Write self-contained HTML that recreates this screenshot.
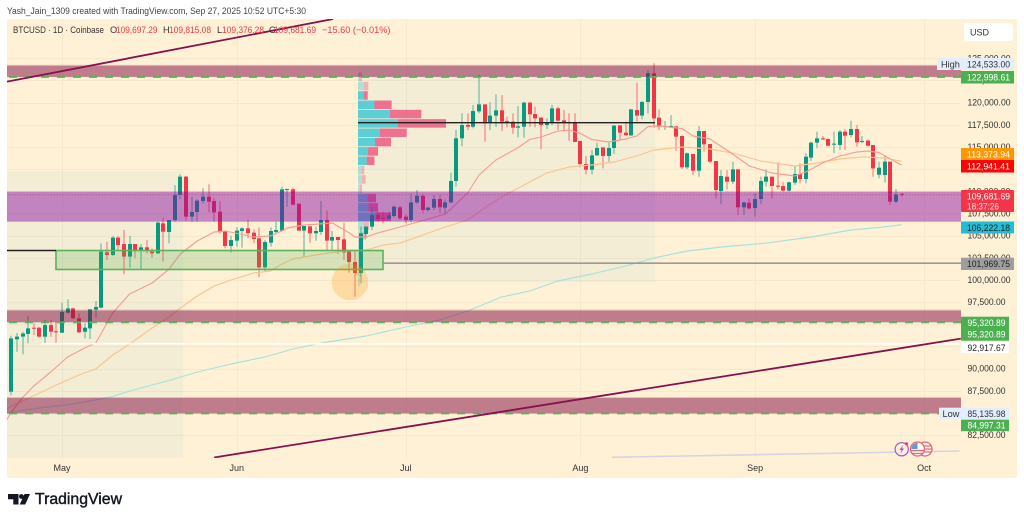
<!DOCTYPE html>
<html lang="en">
<head>
<meta charset="utf-8">
<title>BTCUSD chart</title>
<style>
html,body{margin:0;padding:0;background:#fff;width:1024px;height:521px;overflow:hidden}
svg{display:block;font-family:"Liberation Sans",sans-serif}
</style>
</head>
<body>
<svg id="chart" width="1024" height="521" viewBox="0 0 1024 521" xmlns="http://www.w3.org/2000/svg">
  <defs><clipPath id="plot-clip"><rect x="7" y="19" width="954" height="439"/></clipPath></defs>
  <rect x="7" y="19" width="1010" height="459" fill="#fff1d6"/>
  <g id="grid"></g>
  <g clip-path="url(#plot-clip)">
    <g id="tints"></g>
    <g id="vp"></g>
    <g id="candles"></g>
    <g id="mas"></g>
    <g id="zones"></g>
    <g id="lines"></g>
    <g>
      <circle cx="901.7" cy="449.3" r="6.6" fill="#fff1d6" stroke="#a64fe0" stroke-width="1.2"/>
      <polygon points="903,445 899.5,450 901.5,450 900.5,453.5 904,448.5 902,448.5" fill="#a64fe0"/>
      <circle cx="906.5" cy="443.8" r="1.5" fill="#f23645"/>
      <circle cx="925" cy="449" r="7" fill="#fff" stroke="#f0606e" stroke-width="1.2"/>
      <path d="M919 446h12M918 449h14M919 452h12" stroke="#f0606e" stroke-width="1.2" fill="none"/>
      <circle cx="917.5" cy="449" r="7" fill="#fff" stroke="#f0606e" stroke-width="1.2"/>
      <path d="M911 450.5h13M912 453.5h11" stroke="#f0606e" stroke-width="1.2" fill="none"/>
      <path d="M917.5 442.8a6.2 6.2 0 0 0-6.2 6.2h6.2z" fill="#5b9be6"/>
    </g>
  </g>
  <g id="ticks"></g>

  <text x="7" y="14" font-size="9.6" fill="#444" textLength="299" lengthAdjust="spacingAndGlyphs">Yash_Jain_1309 created with TradingView.com, Sep 27, 2025 10:52 UTC+5:30</text>

  <g font-size="9.2">
    <text x="13" y="33" fill="#333" textLength="91" lengthAdjust="spacingAndGlyphs">BTCUSD · 1D · Coinbase</text>
    <text x="110" y="33" fill="#333">O</text>
    <text x="116" y="33" fill="#f23645" textLength="41.5" lengthAdjust="spacingAndGlyphs">109,697.29</text>
    <text x="163" y="33" fill="#333">H</text>
    <text x="169" y="33" fill="#f23645" textLength="42" lengthAdjust="spacingAndGlyphs">109,815.08</text>
    <text x="217" y="33" fill="#333">L</text>
    <text x="222" y="33" fill="#f23645" textLength="42" lengthAdjust="spacingAndGlyphs">109,376.28</text>
    <text x="269" y="33" fill="#333">C</text>
    <text x="274" y="33" fill="#f23645" textLength="42" lengthAdjust="spacingAndGlyphs">109,681.69</text>
    <text x="322" y="33" fill="#f23645">−15.60 (−0.01%)</text>
  </g>

  <g font-size="9.2">
    <rect x="964" y="23" width="49" height="18" rx="3" fill="#fff"/>
    <text x="970" y="35.5" fill="#333" font-size="9">USD</text>

    <rect x="937" y="58" width="24" height="12" fill="#e3edfb"/>
    <text x="941" y="67.3" fill="#333">High</text>
    <rect x="961" y="58" width="53" height="12" fill="#e3edfb"/>
    <text x="967" y="67.3" fill="#333" textLength="43" lengthAdjust="spacingAndGlyphs">124,533.00</text>

    <rect x="961" y="71" width="53" height="12.5" fill="#4caf50"/>
    <text x="967" y="80.5" fill="#fff" textLength="43" lengthAdjust="spacingAndGlyphs">122,998.61</text>

    <rect x="961" y="148" width="53" height="12" fill="#ff9800"/>
    <text x="967" y="157.3" fill="#fff" textLength="43" lengthAdjust="spacingAndGlyphs">113,373.94</text>
    <rect x="961" y="160" width="53" height="12.5" fill="#fa0505"/>
    <text x="967" y="169.5" fill="#fff" textLength="43" lengthAdjust="spacingAndGlyphs">112,941.41</text>

    <rect x="961" y="190" width="53" height="22" rx="1" fill="#f23645"/>
    <text x="967" y="199.5" fill="#fff" textLength="43" lengthAdjust="spacingAndGlyphs">109,681.69</text>
    <text x="967" y="209.5" fill="#fff" fill-opacity=".85" textLength="32" lengthAdjust="spacingAndGlyphs">18:37:26</text>

    <rect x="961" y="221.5" width="53" height="12" fill="#22bcd4"/>
    <text x="967" y="230.8" fill="#222" textLength="43" lengthAdjust="spacingAndGlyphs">106,222.18</text>

    <rect x="961" y="257.7" width="53" height="12.3" fill="#9e9e9e"/>
    <text x="967" y="267" fill="#222" textLength="43" lengthAdjust="spacingAndGlyphs">101,969.75</text>

    <rect x="961" y="316.7" width="48" height="24" fill="#4caf50"/>
    <text x="967.5" y="325.8" fill="#fff" textLength="38" lengthAdjust="spacingAndGlyphs">95,320.89</text>
    <text x="967.5" y="337.5" fill="#fff" textLength="38" lengthAdjust="spacingAndGlyphs">95,320.89</text>

    <rect x="961" y="342" width="48" height="11" fill="#fff"/>
    <text x="967.5" y="350.8" fill="#222" textLength="38" lengthAdjust="spacingAndGlyphs">92,917.67</text>

    <rect x="939" y="407.7" width="22" height="11.5" fill="#e3edfb"/>
    <text x="942.5" y="416.8" fill="#333">Low</text>
    <rect x="961" y="407.7" width="48" height="11.5" fill="#e3edfb"/>
    <text x="967.5" y="416.8" fill="#333" textLength="38" lengthAdjust="spacingAndGlyphs">85,135.98</text>

    <rect x="961" y="419.7" width="48" height="11.5" fill="#4caf50"/>
    <text x="967.5" y="428.7" fill="#fff" textLength="38" lengthAdjust="spacingAndGlyphs">84,997.31</text>
  </g>

  <g>
    <path d="M8 494h10.5v10.5h-5.2v-5.3H8z" fill="#131722"/>
    <circle cx="21.4" cy="496.5" r="2.4" fill="#131722"/>
    <polygon points="24.5,494 30,494 25.2,504.5 19.7,504.5" fill="#131722"/>
    <text x="35" y="504" font-size="15.5" fill="#131722" stroke="#131722" stroke-width=".4" textLength="87" lengthAdjust="spacingAndGlyphs">TradingView</text>
  </g>
</svg>

<script>
// Candle data: day 1 = 2025-04-22, one value per daily bar (USD)
var opens = [87390,93300,93600,93900,94600,94600,93590,94900,94200,94040,96300,96780,95660,94150,94530,96640,96860,103100,102800,104760,104040,102620,104040,103370,103670,103180,102990,106370,105400,106750,109570,111640,107130,107650,108900,109380,108890,107690,105470,103820,104420,105510,105810,105320,104680,101410,104190,105400,105550,110170,110210,108590,105550,106030,105250,105400,106750,104420,104830,104570,103180,102010,100770,105170,106000,107310,107010,106900,107200,108180,107130,106750,108740,109490,107880,108140,109120,108140,108740,111150,115960,117460,117270,119000,119790,117730,118520,119120,117910,117840,117160,117270,119980,118700,118290,117460,117760,119340,117990,117760,117690,115660,113060,112420,114040,114940,113970,114870,117420,116600,116300,119150,118520,120060,123290,118290,117270,117230,117310,116220,112690,114190,112310,116780,115320,113400,110020,111630,111070,112460,108180,108700,108100,109120,111070,111640,110620,110580,110060,110960,111940,111370,113780,115470,115960,115880,115280,115210,116710,116330,117010,115580,115700,115210,111860,111820,113330,108820,109697];
var highs = [93700,94000,94150,95900,95100,94720,95470,95470,95290,97430,97800,96860,96220,95100,96680,97620,104120,104300,104950,104950,105620,104950,104040,104040,104490,103550,106560,107010,106750,110700,111900,111710,109380,109080,110320,110770,109190,108890,105470,104980,105920,105920,106750,105700,105920,104490,105920,106560,110510,110270,110400,108590,106070,106030,106000,108890,107800,105510,104830,106450,103180,103180,106000,106070,108180,107690,107690,107690,108370,108330,107400,109760,110130,109680,108250,109570,109570,109080,112090,116900,118780,118780,119720,123100,119790,120020,120920,120840,118400,118780,119600,120090,120090,119530,118400,118210,119720,119530,119150,118780,118780,115660,113970,114640,115470,114940,115470,117460,117420,117840,119230,122240,120170,123660,124420,119230,117910,118590,117310,116300,114350,114190,117350,116780,115320,113400,112390,112390,113330,112460,108740,109190,109760,111640,112460,111640,113250,111070,111070,112880,113140,114270,115580,116710,116220,115960,116710,116900,117010,117950,117460,116220,115850,115210,113330,113970,113330,110240,109815];
var lows = [87000,91900,91600,92850,93780,93480,92900,93590,92900,94040,96220,95580,93970,93400,93330,95730,96790,102240,102690,103370,100620,101370,102430,101190,102990,102500,102920,102050,104120,106560,109120,106670,106560,106560,108630,107610,106560,105250,103550,103070,103740,103630,104680,104120,100280,101000,103740,105250,105550,108250,108400,105550,102620,104190,104420,105060,103290,103370,102920,102240,100810,98100,99610,104680,105620,106560,106370,106750,107050,106750,106400,106500,108550,107500,107690,107880,107500,107310,108630,110510,115100,116900,117090,118780,115580,116900,117270,116790,117200,116450,116070,116030,117270,117200,114720,117010,117460,116900,116710,115700,115550,112690,111900,111900,113970,112570,113330,114190,115770,116220,116220,117840,118100,118780,117160,116900,116900,117200,114570,112500,112500,111820,111630,114460,113140,109190,108550,110210,110810,107310,107310,107950,107130,108550,110510,109190,110210,109940,109940,110700,110880,110880,113400,114830,115770,115100,114270,114640,114640,116070,115020,115390,115020,111630,111450,110960,108440,108630,109376];
var closes = [93400,93600,93950,94530,94520,93600,94900,94150,94080,96370,96780,95660,94080,94610,96680,96940,103180,102800,104760,103930,102620,104040,103370,103670,103370,102990,106450,105430,106750,109570,111640,107130,107650,108930,109380,108820,107610,105400,103820,104490,105550,105810,105280,104610,101410,104270,105510,105620,110210,110250,108480,105550,106070,105250,105510,106750,104420,104830,104490,103100,102010,100770,105250,106000,107310,106860,106900,107280,108250,106940,106750,108740,109490,107880,108140,109120,108180,108740,111150,115960,117460,117270,119040,119790,117650,118520,119120,117840,117730,117160,117310,119980,118670,118210,117460,117760,119340,117950,117730,117690,115550,113060,112420,114040,114870,113970,114870,117390,116600,116300,119230,118520,120060,123290,118210,117270,117350,117350,116150,112690,114270,112310,116780,115280,113330,110130,111710,111070,112460,108180,108740,108060,109120,111150,111640,110580,110510,110060,111000,111940,111370,113890,115470,115960,115880,115130,115360,116710,116260,117010,115510,115660,115130,112570,112650,113330,108820,109640,109682];

// Moving averages (day index / price pairs)
var ema20Days = [0,1,3,5,8,11,14,16,19,22,26,29,31,34,37,39,44,47,49,50,53,58,61,62,64,66,70,75,78,79,82,84,87,91,93,95,98,100,102,104,107,110,112,114,116,120,122,125,129,132,136,140,142,145,148,151,153,155,157,159];
var ema20Values = [84000,85100,86730,88030,89610,91300,92310,92880,96260,98400,99650,101220,102920,104380,105400,105510,104830,104940,105510,105850,106190,106410,105280,104830,104830,105280,105960,106860,107430,107990,109790,111820,113520,114930,115830,116110,116780,116900,116500,115830,115540,115880,116220,117290,117350,117070,116220,115880,114190,112840,112050,111710,112160,113180,113970,114410,114530,114360,113630,112941];
var ema50Days = [0,3,6,9,13,16,19,22,26,29,31,34,37,40,44,47,49,51,55,60,64,67,70,74,78,82,85,88,92,96,100,104,108,112,115,120,125,129,134,140,144,148,152,156,159];
var ema50Values = [85440,86340,87240,88140,89270,89950,91530,92760,94570,95810,96830,98180,99310,99980,100770,101000,101790,102350,102800,103250,103360,103930,104150,105050,105960,106750,108100,109340,110700,112050,112730,112950,113290,113970,114640,114980,114760,114300,113400,112840,113180,113630,113860,113740,113374];
var ema200Days = [0,6,12,16,19,22,29,34,40,46,51,56,64,71,77,82,88,93,98,104,110,115,121,127,135,143,150,155,159];
var ema200Values = [84990,85550,86000,86450,86850,87470,88650,89610,90510,91300,92200,92880,93670,94680,95470,96490,98070,98740,99870,100660,101560,102460,103250,103700,104150,104830,105620,105900,106222];

// Volume profile rows, top row first (volume units)
var vpUp = [1,6,6,16.3,32,40,22,17,9.7,8.7,4,4,2,9.3,10.3,17,6,5,3,3,2,2,1];
var vpDown = [3,4.3,3.7,17.3,31.3,48,26.7,16,10.3,7.7,2.3,3.7,2,8.7,9.7,16,5,3,2,1.5,1,1,0.5];
var vpInValueArea = [0,0,1,1,1,1,1,1,1,1,0,0,0,1,1,1,0,0,0,0,0,0,0];
var vpTopPrice = 123380;
var vpRowPrice = 1052;

// Price zones: top / bottom prices
var zoneTops = [124150,109910,96540,86680];
var zoneBottoms = [122880,106560,95210,84930];
var zoneKinds = ['rose','purple','rose','rose'];

// Axis data
var priceTicks = [125000,122500,120000,117500,115000,112500,110000,107500,105000,102500,100000,97500,95000,92500,90000,87500,85000,82500];
var monthLabels = ['May','Jun','Jul','Aug','Sep','Oct'];
var monthDays = [10,41,71,102,133,163];

// Axis functions
function dayX(d){ return 11.3 + (d - 1) * 5.635; }
function priceY(p){ return 102.5 + (120000 - p) / 112.77; }

var NS = 'http://www.w3.org/2000/svg';
function make(tag, parentId, attrs){
  var el = document.createElementNS(NS, tag);
  for (var k in attrs) el.setAttribute(k, attrs[k]);
  document.getElementById(parentId).appendChild(el);
  return el;
}

// Grid
priceTicks.forEach(function(p){
  var y = Math.round(priceY(p)) + 0.5;
  var el = make('line', 'grid', {x1:7, x2:961, y1:y, y2:y, stroke:'#f6e7cd', 'stroke-width':1});
  
  
});
monthDays.forEach(function(d){
  var x = Math.round(dayX(d)) + 0.5;
  var el = make('line', 'grid', {x1:x, x2:x, y1:19, y2:458, stroke:'#f6e7cd', 'stroke-width':1});
  
  
});

// Range tints
var tintA = make('rect', 'tints', {x:dayX(0.24), y:171, width:dayX(31.5)-dayX(0.24), height:287, fill:'rgba(60,180,210,.06)'});


var tintB = make('rect', 'tints', {x:dayX(62.53), y:65, width:dayX(115.24)-dayX(62.53), height:217.5, fill:'rgba(60,180,210,.06)'});



// Volume profile
var vpLeft = dayX(62.53);
vpUp.forEach(function(v, i){
  var top = priceY(vpTopPrice - i * vpRowPrice);
  var h = vpRowPrice / 112.77 - 0.8;
  var strong = vpInValueArea[i] === 1;
  var up = make('rect', 'vp', {x:vpLeft, y:top, width:v, height:h, fill:'#00bcd4', 'fill-opacity':strong ? .62 : .28});
  
  
  var dn = make('rect', 'vp', {x:vpLeft + v, y:top, width:vpDown[i], height:h, fill:'#e91e63', 'fill-opacity':strong ? .6 : .28});
  
  
});

// Candles
opens.forEach(function(o, i){
  var d = i + 1, c = closes[i], col = c >= o ? '#089981' : '#f23645';
  var x = Math.round(dayX(d));
  var wick = make('rect', 'candles', {x:x - 0.5, y:priceY(highs[i]), width:1, height:priceY(lows[i]) - priceY(highs[i]), fill:col, 'fill-opacity':.7});
  
  
  var top = priceY(Math.max(o, c));
  var body = make('rect', 'candles', {x:x - 2, y:top, width:4, height:Math.max(1, priceY(Math.min(o, c)) - top), fill:col});
  
  
});

// Moving averages
function pathFrom(days, vals){
  return days.map(function(d, i){ return (i ? 'L' : 'M') + dayX(d).toFixed(1) + ' ' + priceY(vals[i]).toFixed(1); }).join('');
}
var ema200 = make('path', 'mas', {d:pathFrom(ema200Days, ema200Values), fill:'none', stroke:'#a6e2dc', 'stroke-width':1.15, 'stroke-linejoin':'round'});


var ema50 = make('path', 'mas', {d:pathFrom(ema50Days, ema50Values), fill:'none', stroke:'#f9c48e', 'stroke-width':1.15, 'stroke-linejoin':'round'});


var ema20 = make('path', 'mas', {d:pathFrom(ema20Days, ema20Values), fill:'none', stroke:'#f59d92', 'stroke-width':1.15, 'stroke-linejoin':'round'});



// Zones
zoneTops.forEach(function(t, i){
  var y1 = priceY(t), y2 = priceY(zoneBottoms[i]);
  var rose = zoneKinds[i] === 'rose';
  var z = make('rect', 'zones', {x:7, y:y1, width:954, height:y2 - y1, fill:rose ? 'rgba(127,9,66,.5)' : 'rgba(133,5,165,.45)'});
  
  
  var edge = make('line', 'zones', {x1:7, x2:961, y1:y1 - 0.5, y2:y1 - 0.5, stroke:rose ? 'rgba(127,9,66,.18)' : 'rgba(133,5,165,.15)', 'stroke-width':1});
  
  
  if (rose) {
    var dash = make('line', 'zones', {x1:7, x2:961, y1:y2, y2:y2, stroke:'#5fae5a', 'stroke-width':1.8, 'stroke-dasharray':'8 8', 'stroke-dashoffset':'-2'});
    
    
  }
});

// Order block box + drawn lines
var boxTop = priceY(103310), boxBottom = priceY(101170);
var box = make('rect', 'zones', {x:dayX(8.93), y:boxTop, width:dayX(66.96)-dayX(8.93), height:boxBottom-boxTop, fill:'rgba(76,175,80,.22)', stroke:'#5cb25a', 'stroke-width':1.6});



function addLine(name, d1, p1, d2, p2, stroke, width, dash){
  var attrs = {x1:dayX(d1), y1:priceY(p1), x2:dayX(d2), y2:priceY(p2), stroke:stroke, 'stroke-width':width};
  if (dash) attrs['stroke-dasharray'] = dash;
  var el = make('line', 'lines', attrs);
  
  
}
addLine('volume-poc-line', 62.53, 117720, 115.24, 117720, '#222', 1.4);
addLine('left-black-level', 0, 103310, 8.93, 103310, '#222', 1.4);
addLine('grey-level-line', 66.96, 101880, 175, 101880, '#9c9a96', 1.6);
addLine('white-level-line', 5.9, 92800, 175, 92800, '#ffffff', 1.6);
addLine('last-price-dotted-line', 0, 109600, 175, 109600, '#b3478f', 1, '1 2');
addLine('upper-trendline', 0.24, 122350, 58.1, 129416, '#85114f', 1.8);
addLine('lower-trendline', 37, 79970, 169.5, 93370, '#85114f', 1.8);
addLine('calendar-faint-line', 107.6, 79990, 169.3, 80700, '#d6d4e0', 1.6);

var hit = make('circle', 'lines', {cx:dayX(61.1), cy:priceY(99760), r:18.3, fill:'rgba(255,152,0,.24)'});



// Axis labels
function fmt(p){ return p.toLocaleString('en-US', {minimumFractionDigits:2, maximumFractionDigits:2}); }
priceTicks.forEach(function(p){
  var t = make('text', 'ticks', {x:967.5, y:priceY(p) + 3.2, 'font-size':9.2, fill:'#333', textLength:p >= 100000 ? 43 : 38, lengthAdjust:'spacingAndGlyphs'});
  
  
  t.textContent = fmt(p);
});
monthLabels.forEach(function(m, i){
  var t = make('text', 'ticks', {x:dayX(monthDays[i]), y:471, 'font-size':9, fill:'#333', 'text-anchor':'middle'});
  
  
  t.textContent = m;
});
</script>
</body>
</html>
